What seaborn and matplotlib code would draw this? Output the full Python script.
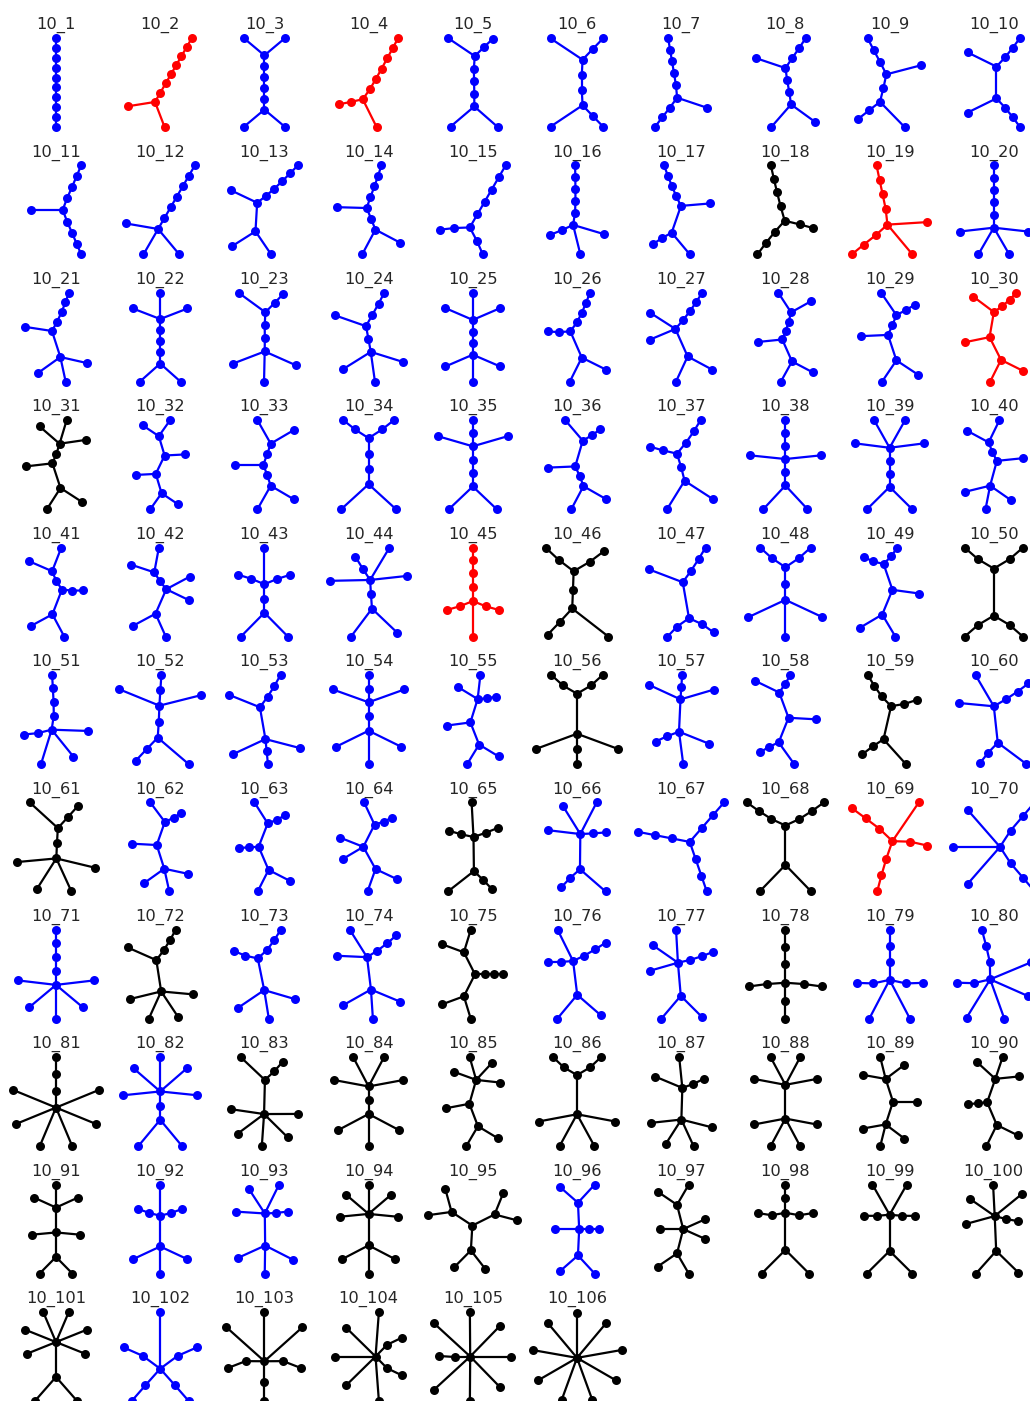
import numpy as np
import pandas as pd
import matplotlib
matplotlib.use("Agg")
import matplotlib.pyplot as plt
import seaborn as sns

# all free trees on 10 vertices, in generation order (WROM algorithm)
N_VERTICES = 10
N_COLS = 10

# colour class of each tree (b = blue, r = red, k = black)
tree_colors = [
    "b", "r", "b", "r", "b", "b", "b", "b", "b", "b",
    "b", "b", "b", "b", "b", "b", "b", "k", "r", "b",
    "b", "b", "b", "b", "b", "b", "b", "b", "b", "r",
    "k", "b", "b", "b", "b", "b", "b", "b", "b", "b",
    "b", "b", "b", "b", "r", "k", "b", "b", "b", "k",
    "b", "b", "b", "b", "b", "k", "b", "b", "k", "b",
    "k", "b", "b", "b", "k", "b", "b", "k", "r", "b",
    "b", "k", "b", "b", "k", "b", "b", "k", "b", "b",
    "k", "b", "k", "k", "k", "k", "k", "k", "k", "k",
    "k", "b", "b", "k", "k", "b", "k", "k", "k", "k",
    "k", "b", "k", "k", "k", "k",
]
color_map = {"b": "blue", "r": "red", "k": "black"}

SHORT_EDGE = 1.0   # edges touching a degree-2 vertex (chains)
LONG_EDGE = 2.3    # leaf-hub and hub-hub edges


# ---- tree enumeration (level sequences) ----
def next_rooted_tree(pred, p=None):
    if p is None:
        p = len(pred) - 1
        while pred[p] == 1:
            p -= 1
    if p == 0:
        return None
    q = p - 1
    while pred[q] != pred[p] - 1:
        q -= 1
    res = list(pred)
    for i in range(p, len(res)):
        res[i] = res[i - p + q]
    return res


def split_tree(layout):
    one_found = False
    m = None
    for i, v in enumerate(layout):
        if v == 1:
            if one_found:
                m = i
                break
            one_found = True
    if m is None:
        m = len(layout)
    left = [layout[i] - 1 for i in range(1, m)]
    rest = [0] + [layout[i] for i in range(m, len(layout))]
    return left, rest


def next_tree(cand):
    left, rest = split_tree(cand)
    lh, rh = max(left), max(rest)
    valid = rh >= lh
    if valid and rh == lh:
        if len(left) > len(rest):
            valid = False
        elif len(left) == len(rest) and left > rest:
            valid = False
    if valid:
        return cand
    p = len(left)
    new = next_rooted_tree(cand, p)
    if cand[p] > 2:
        nl, nr = split_tree(new)
        suffix = list(range(1, max(nl) + 2))
        new[-len(suffix):] = suffix
    return new


def free_trees(n):
    layout = list(range(n // 2 + 1)) + list(range(1, (n + 1) // 2))
    while layout is not None:
        layout = next_tree(layout)
        if layout is not None:
            yield layout
            layout = next_rooted_tree(layout)


def level_edges(layout):
    edges, stack = [], []
    for i, lev in enumerate(layout):
        while stack and layout[stack[-1]] >= lev:
            stack.pop()
        if stack:
            edges.append((stack[-1], i))
        stack.append(i)
    return edges


# ---- layout: radial start + stress majorization ----
def radial_init(n, nbrs, elen, root, order):
    pos = np.zeros((n, 2))
    size = {}

    def count(v, p):
        kids = [c for c in nbrs[v] if c != p]
        size[v] = 1 if not kids else sum(count(c, v) for c in kids)
        return size[v]

    count(root, -1)

    def place(v, p, a0, a1, r):
        ang = (a0 + a1) / 2
        pos[v] = r * np.cos(ang), r * np.sin(ang)
        kids = sorted([c for c in nbrs[v] if c != p], key=lambda c: size[c])
        if order == 1:
            kids = kids[::-1]
        elif order == 2:
            kids = kids[::2] + kids[1::2][::-1]
        a = a0
        for c in kids:
            w = (a1 - a0) * size[c] / size[v]
            place(c, v, a, a + w, r + elen[frozenset((v, c))])
            a += w

    place(root, -1, 0.0, 2 * np.pi, 0.0)
    return pos


def clutter(X, edges):
    """crossing edges plus vertices sitting on (or very near) foreign edges"""
    def ccw(a, b, c):
        return (c[1] - a[1]) * (b[0] - a[0]) - (b[1] - a[1]) * (c[0] - a[0])
    cnt = 0
    for i in range(len(edges)):
        for j in range(i + 1, len(edges)):
            a, b = edges[i]
            c, d = edges[j]
            if len({a, b, c, d}) < 4:
                continue
            p, q, r, s = X[a], X[b], X[c], X[d]
            if ccw(p, q, r) * ccw(p, q, s) < 0 and ccw(r, s, p) * ccw(r, s, q) < 0:
                cnt += 2
    for a, b in edges:
        p, q = X[a], X[b]
        seg = q - p
        L2 = seg @ seg
        for v in range(len(X)):
            if v in (a, b):
                continue
            t = np.clip((X[v] - p) @ seg / L2, 0, 1)
            if np.linalg.norm(X[v] - (p + t * seg)) < 0.35 * SHORT_EDGE:
                cnt += 1
    return cnt


def tree_positions(n, edges):
    deg = np.zeros(n, int)
    nbrs = {i: [] for i in range(n)}
    for a, b in edges:
        deg[a] += 1
        deg[b] += 1
        nbrs[a].append(b)
        nbrs[b].append(a)
    elen = {frozenset((a, b)): (SHORT_EDGE if 2 in (deg[a], deg[b]) else LONG_EDGE)
            for a, b in edges}

    D = np.full((n, n), np.inf)
    np.fill_diagonal(D, 0)
    for (a, b) in edges:
        D[a, b] = D[b, a] = elen[frozenset((a, b))]
    for k in range(n):
        D = np.minimum(D, D[:, [k]] + D[[k], :])

    W = np.zeros((n, n))
    off = ~np.eye(n, dtype=bool)
    W[off] = D[off] ** -2.0
    V = -W.copy()
    np.fill_diagonal(V, W.sum(axis=1))
    Vp = np.linalg.pinv(V)

    roots = sorted({0} | {int(i) for i in np.flatnonzero(deg >= 3)})
    best = None
    for root in roots:
        for order in (0, 1, 2):
            X = radial_init(n, nbrs, elen, root, order)
            for _ in range(400):
                dist = np.linalg.norm(X[:, None] - X[None], axis=-1)
                dist[dist < 1e-9] = 1e-9
                B = -W * D / dist
                np.fill_diagonal(B, 0)
                np.fill_diagonal(B, -B.sum(axis=1))
                X = Vp @ B @ X
            dist = np.linalg.norm(X[:, None] - X[None], axis=-1)
            stress = (W * (dist - D) ** 2)[off].sum()
            score = (clutter(X, edges), round(stress, 6))
            if best is None or score < best[0]:
                best = (score, X)
    X = best[1]

    X = X - X.mean(axis=0)
    w, v = np.linalg.eigh(np.cov(X.T))
    major = v[:, 1]
    proj = X @ major
    span = proj.max() - proj.min()
    hubs = deg >= 3
    if hubs.any():
        hc = (X[hubs] * deg[hubs, None]).sum(axis=0) / deg[hubs].sum()
        hp = hc @ major / span
    else:
        hp = 0.0
    if abs(hp) > 0.15:
        u = -major * np.sign(hp)
        target = np.deg2rad(60)
    else:
        u = major if hp <= 0 else -major
        target = np.deg2rad(90)
    rot = target - np.arctan2(u[1], u[0])
    R = np.array([[np.cos(rot), -np.sin(rot)], [np.sin(rot), np.cos(rot)]])
    X = X @ R.T

    X = X - (X.max(axis=0) + X.min(axis=0)) / 2
    X = X / (X.max(axis=0) - X.min(axis=0)).max()
    return X


trees = [level_edges(l) for l in free_trees(N_VERTICES)]

sns.set_style("white")
fig = plt.figure(figsize=(10.3, 14.01), dpi=100)
W_PX, H_PX = 1030, 1401
box = 100.0          # axes size in px
span_px = 89.0       # px covered by the largest drawing extent
lim = box / span_px / 2

for idx, (edges, code) in enumerate(zip(trees, tree_colors)):
    r, c = divmod(idx, N_COLS)
    cx = 56.0 + 104.2 * c
    cy = 82.5 + 127.4 * r
    ax = fig.add_axes([(cx - box / 2) / W_PX, 1 - (cy + box / 2) / H_PX,
                       box / W_PX, box / H_PX])
    pos = tree_positions(N_VERTICES, edges)
    col = color_map[code]
    for a, b in edges:
        ax.plot(pos[[a, b], 0], pos[[a, b], 1], color=col, lw=1.6, zorder=1,
                clip_on=False)
    nodes = pd.DataFrame({"x": pos[:, 0], "y": pos[:, 1]})
    sns.scatterplot(data=nodes, x="x", y="y", color=col, s=42, linewidth=0,
                    ax=ax, zorder=2, legend=False, clip_on=False)
    ax.set_xlim(-lim, lim)
    ax.set_ylim(-lim, lim)
    ax.set_axis_off()
    ax.set_title(f"10_{idx + 1}", fontsize=11.7, pad=0, y=1.075, va="center")

fig.savefig("out.png", dpi=100)
